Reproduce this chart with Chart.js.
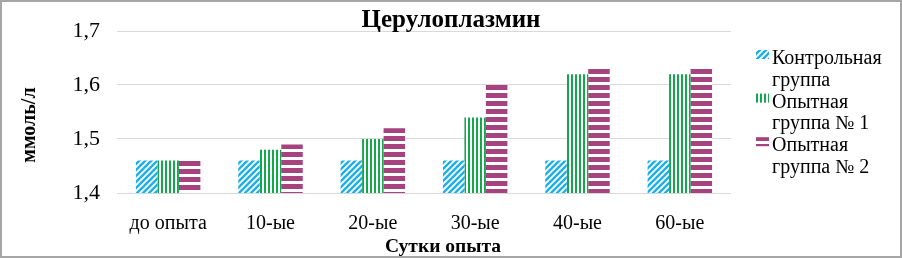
<!DOCTYPE html>
<html>
<head>
<meta charset="utf-8">
<script src="https://cdn.jsdelivr.net/npm/chart.js@4.4.1/dist/chart.umd.min.js"></script>
<style>
  html, body { margin: 0; padding: 0; background: #fff; }
  #wrap { width: 902px; height: 258px; position: relative; }
</style>
</head>
<body>
<div id="wrap"><canvas id="c" width="902" height="258"></canvas></div>
<script>
// ---- data ----
const categories = ['до опыта', '10-ые', '20-ые', '30-ые', '40-ые', '60-ые'];
const controlGroup = [1.46, 1.46, 1.46, 1.46, 1.46, 1.46];
const experimentalGroup1 = [1.46, 1.48, 1.50, 1.54, 1.62, 1.62];
const experimentalGroup2 = [1.46, 1.49, 1.52, 1.60, 1.63, 1.63];
const seriesNames = [['Контрольная', 'группа'], ['Опытная', 'группа № 1'], ['Опытная', 'группа № 2']];
const yTickValues = [1.4, 1.5, 1.6, 1.7];
const yTickLabels = ['1,4', '1,5', '1,6', '1,7'];
const chartTitle = 'Церулоплазмин';
const xAxisTitle = 'Сутки опыта';
const yAxisTitle = 'ммоль/л';

// ---- patterns ----
const canvas = document.getElementById('c');
const ctx = canvas.getContext('2d');
const CAT_PCT = 0.63;

function tileDiag(color) {
  const s = 6;
  const c = document.createElement('canvas'); c.width = s; c.height = s;
  const x = c.getContext('2d');
  x.fillStyle = '#fff'; x.fillRect(0, 0, s, s);
  x.strokeStyle = color; x.lineWidth = 2.4; x.lineCap = 'square';
  x.beginPath();
  x.moveTo(0, s); x.lineTo(s, 0);
  x.moveTo(-s / 2, s / 2); x.lineTo(s / 2, -s / 2);
  x.moveTo(s / 2, s * 1.5); x.lineTo(s * 1.5, s / 2);
  x.stroke();
  return c;
}
function tileVert(color) {
  const c = document.createElement('canvas'); c.width = 4; c.height = 4;
  const x = c.getContext('2d');
  x.fillStyle = '#fff'; x.fillRect(0, 0, 4, 4);
  x.fillStyle = color; x.fillRect(0, 0, 2, 4);
  return c;
}
function tileHorz(color) {
  const c = document.createElement('canvas'); c.width = 8; c.height = 8;
  const x = c.getContext('2d');
  x.fillStyle = '#fff'; x.fillRect(0, 0, 8, 8);
  x.fillStyle = color; x.fillRect(0, 0, 8, 5);
  return c;
}
const tiles = [tileDiag('#1cb0ea'), tileVert('#12a84b'), tileHorz('#a6437e')];
const basePatterns = tiles.map(t => ctx.createPattern(t, 'repeat'));

// pattern aligned to each bar (top edge for horizontal stripes, left edge for vertical)
function barFill(c, kind) {
  const chart = c.chart;
  if (c.type !== 'data' || !chart.scales || !chart.scales.x || !chart.scales.y) return basePatterns[kind];
  const xs = chart.scales.x, ys = chart.scales.y;
  const p = ctx.createPattern(tiles[kind], 'repeat');
  if (kind === 2) {
    const top = ys.getPixelForValue(c.raw);
    p.setTransform(new DOMMatrix().translate(0, Math.round(top)));
  } else if (kind === 1) {
    const step = xs.width / categories.length;
    const bw = step * CAT_PCT / 3;
    const left = xs.getPixelForValue(c.dataIndex) - step * CAT_PCT / 2 + c.datasetIndex * bw;
    p.setTransform(new DOMMatrix().translate(Math.round(left), 0));
  }
  return p;
}

const FONT = "'Liberation Serif', 'Times New Roman', serif";

// background + frame + axis titles + legend
const decorPlugin = {
  id: 'decor',
  beforeDraw(chart) {
    const c = chart.ctx;
    c.save();
    c.fillStyle = '#fff';
    c.fillRect(0, 0, chart.width, chart.height);
    c.restore();
  },
  afterDraw(chart) {
    const c = chart.ctx;
    const area = chart.chartArea;
    c.save();
    // frame
    c.strokeStyle = '#a6a6a6';
    c.lineWidth = 2;
    c.strokeRect(1, 1, chart.width - 2, chart.height - 2);
    // axis titles
    c.fillStyle = '#000';
    c.font = 'bold 19.5px ' + FONT;
    c.textAlign = 'center';
    c.textBaseline = 'alphabetic';
    c.fillText(xAxisTitle, 443, 252);
    c.save();
    c.translate(35, area.top + (area.bottom - area.top) / 2 + 13);
    c.rotate(-Math.PI / 2);
    c.font = 'bold 20px ' + FONT;
    c.fillText(yAxisTitle, 0, 0);
    c.restore();
    // legend
    const lx = area.right + 25;
    let baseline = 64;
    const step = 21.8;
    c.font = '20px ' + FONT;
    c.textAlign = 'left';
    chart.data.datasets.forEach((ds, i) => {
      c.fillStyle = basePatterns[i];
      c.fillRect(lx, baseline - 14, 13, 9);
      c.fillStyle = '#000';
      const lines = Array.isArray(ds.label) ? ds.label : [ds.label];
      lines.forEach((t) => {
        c.fillText(t, lx + 16, baseline);
        baseline += step;
      });
    });
    c.restore();
  }
};

const chart = new Chart(ctx, {
  type: 'bar',
  data: {
    labels: categories,
    datasets: [
      { label: seriesNames[0], data: controlGroup, backgroundColor: (c) => barFill(c, 0) },
      { label: seriesNames[1], data: experimentalGroup1, backgroundColor: (c) => barFill(c, 1) },
      { label: seriesNames[2], data: experimentalGroup2, backgroundColor: (c) => barFill(c, 2) }
    ]
  },
  options: {
    responsive: false,
    animation: false,
    devicePixelRatio: 1,
    layout: { padding: { left: 0, right: 0, top: 0, bottom: 0 } },
    datasets: { bar: { barPercentage: 1.0, categoryPercentage: CAT_PCT, borderWidth: 0 } },
    plugins: {
      legend: { display: false },
      tooltip: { enabled: false },
      title: {
        display: true,
        text: chartTitle,
        color: '#000',
        font: { family: FONT, size: 25, weight: 'bold', lineHeight: 0.84 },
        padding: { top: 10, bottom: 0 }
      }
    },
    scales: {
      x: {
        grid: { display: false },
        border: { display: false },
        ticks: { color: '#000', font: { family: FONT, size: 20 }, padding: 11, maxRotation: 0 },
        afterFit(s) { s.height = 65; }
      },
      y: {
        min: yTickValues[0],
        max: yTickValues[yTickValues.length - 1],
        afterBuildTicks(s) { s.ticks = yTickValues.map(v => ({ value: v })); },
        grid: { color: '#d9d9d9', lineWidth: 1, drawTicks: false },
        border: { display: false },
        ticks: {
          color: '#000',
          font: { family: FONT, size: 22 },
          padding: 17,
          callback(value) {
            const idx = yTickValues.findIndex(v => Math.abs(v - value) < 1e-9);
            return idx >= 0 ? yTickLabels[idx] : '';
          }
        },
        afterFit(s) { s.width = 117; }
      },
      legendSpace: {
        position: 'right',
        display: true,
        grid: { display: false },
        border: { display: false },
        ticks: { display: false },
        afterFit(s) { s.width = 171; }
      }
    }
  },
  plugins: [decorPlugin]
});
</script>
</body>
</html>
